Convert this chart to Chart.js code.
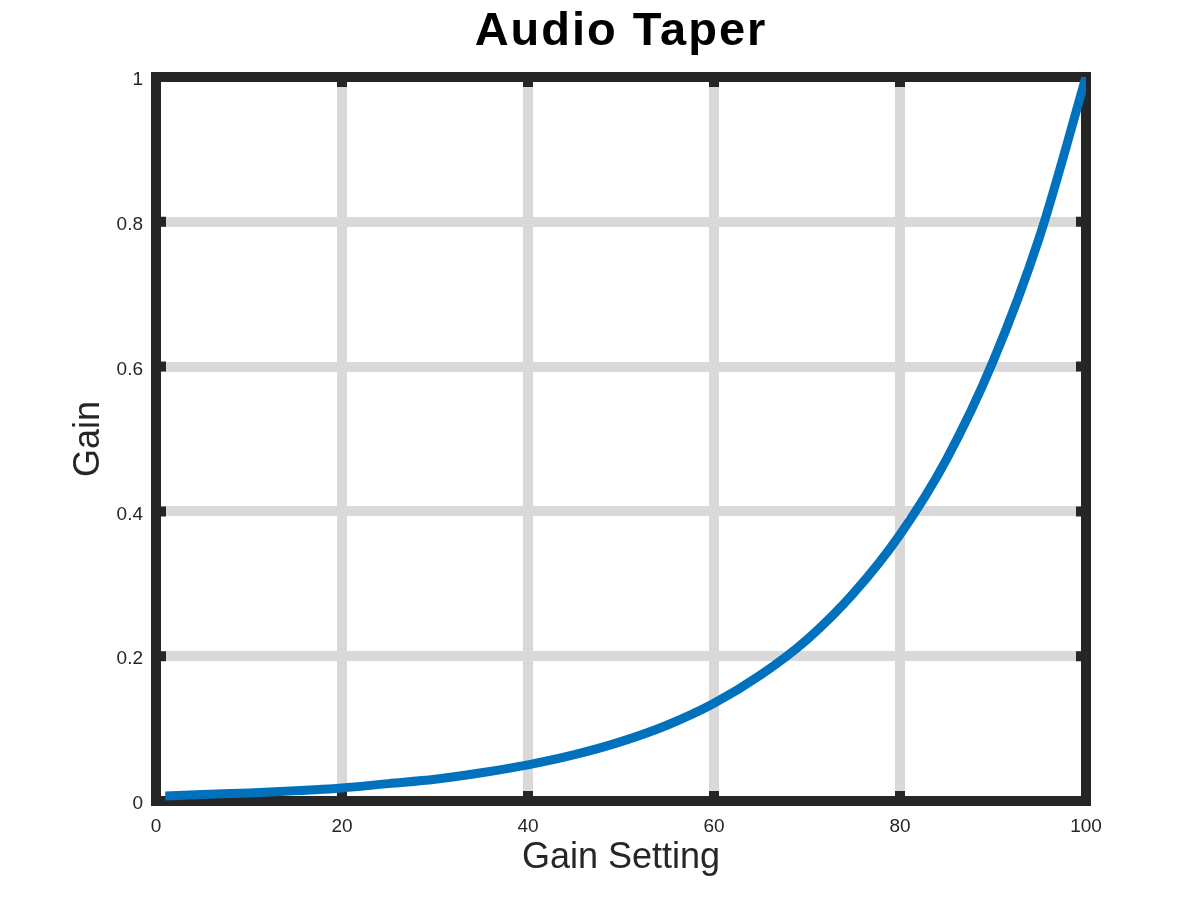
<!DOCTYPE html>
<html>
<head>
<meta charset="utf-8">
<script src="https://cdn.jsdelivr.net/npm/chart.js@4/dist/chart.umd.min.js"></script>
<style>
    html, body { margin: 0; padding: 0; background: #fff; }
    #wrap { width: 1200px; height: 900px; }
</style>
</head>
<body>
<div id="wrap"><canvas id="taperChart" width="1200" height="900"></canvas></div>
<script>
// Values
const gainSetting = [1, 5, 10, 15, 20, 25, 30, 35, 40, 45, 50, 55, 60, 65, 70, 75, 80, 85, 90, 95, 100];
const gain = [0.007, 0.009, 0.011, 0.014, 0.018, 0.024, 0.030, 0.039, 0.050, 0.064, 0.082, 0.105,
              0.135, 0.174, 0.223, 0.287, 0.368, 0.472, 0.607, 0.779, 1.0];
const xTickStep = 20;
const yTickStep = 0.2;

const textColor = '#262626';
const fontFamily = '"Liberation Sans", Arial, Helvetica, sans-serif';

// Box around the plot with small inward tick marks on all four sides
const framePlugin = {
    id: 'frame',
    afterLayout(chart) {
        // centre the title over the plot area, spaced out a bit like the original
        const tb = chart.titleBlock;
        if (!tb) return;
        tb.left = chart.chartArea.left;
        tb.right = chart.chartArea.right;
        if (!tb._spaced) {
            const draw = tb.draw.bind(tb);
            tb.draw = (area) => {
                chart.ctx.save();
                chart.ctx.letterSpacing = '2px';
                draw(area);
                chart.ctx.restore();
            };
            tb._spaced = true;
        }
    },
    beforeDatasetsDraw(chart) {
        const { ctx, chartArea: a, scales: { x, y } } = chart;
        ctx.save();
        ctx.strokeStyle = textColor;
        ctx.lineWidth = 10;
        ctx.beginPath();
        x.ticks.forEach(t => {
            const px = x.getPixelForValue(t.value);
            ctx.moveTo(px, a.top);
            ctx.lineTo(px, a.top + 10);
            ctx.moveTo(px, a.bottom);
            ctx.lineTo(px, a.bottom - 10);
        });
        y.ticks.forEach(t => {
            const py = y.getPixelForValue(t.value);
            ctx.moveTo(a.left, py);
            ctx.lineTo(a.left + 10, py);
            ctx.moveTo(a.right, py);
            ctx.lineTo(a.right - 10, py);
        });
        ctx.stroke();
        ctx.strokeRect(a.left, a.top, a.right - a.left, a.bottom - a.top);
        ctx.restore();
    }
};

const ctx = document.getElementById('taperChart');
new Chart(ctx, {
    type: 'line',
    data: {
        datasets: [{
            label: 'Gain',
            data: gainSetting.map((g, i) => ({ x: g, y: gain[i] })),
            borderColor: '#0072BD',
            borderWidth: 9,
            borderCapStyle: 'butt',
            pointRadius: 0,
            fill: false,
            cubicInterpolationMode: 'monotone'
        }]
    },
    options: {
        responsive: false,
        animation: false,
        devicePixelRatio: 1,
        layout: {
            padding: { left: 0, right: 114, top: 0, bottom: 0 }
        },
        plugins: {
            legend: { display: false },
            tooltip: { enabled: false },
            title: {
                display: true,
                text: 'Audio Taper',
                color: '#000',
                font: { family: fontFamily, size: 47, weight: 'bold', lineHeight: 1.2 },
                padding: { top: 4, bottom: 16.6 }
            }
        },
        scales: {
            x: {
                type: 'linear',
                min: 0,
                max: 100,
                afterFit: (scale) => { scale.height = 99; },
                ticks: {
                    stepSize: xTickStep,
                    color: textColor,
                    padding: 14,
                    maxRotation: 0,
                    font: { family: fontFamily, size: 19 }
                },
                grid: {
                    color: '#d9d9d9',
                    lineWidth: 10,
                    drawTicks: false
                },
                border: { display: false },
                title: {
                    display: true,
                    text: 'Gain Setting',
                    color: textColor,
                    font: { family: fontFamily, size: 36, lineHeight: 1.2 },
                    padding: { top: 0, bottom: 20 }
                }
            },
            y: {
                type: 'linear',
                min: 0,
                max: 1,
                afterFit: (scale) => { scale.width = 156; },
                ticks: {
                    stepSize: yTickStep,
                    color: textColor,
                    padding: 13,
                    labelOffset: 3,
                    font: { family: fontFamily, size: 19 },
                    callback: (v) => String(Number(v.toFixed(1)))
                },
                grid: {
                    color: '#d9d9d9',
                    lineWidth: 10,
                    drawTicks: false
                },
                border: { display: false },
                title: {
                    display: true,
                    text: 'Gain',
                    color: textColor,
                    font: { family: fontFamily, size: 36, lineHeight: 1.2 },
                    padding: { top: 67, bottom: 0 }
                }
            }
        }
    },
    plugins: [framePlugin]
});
</script>
</body>
</html>
